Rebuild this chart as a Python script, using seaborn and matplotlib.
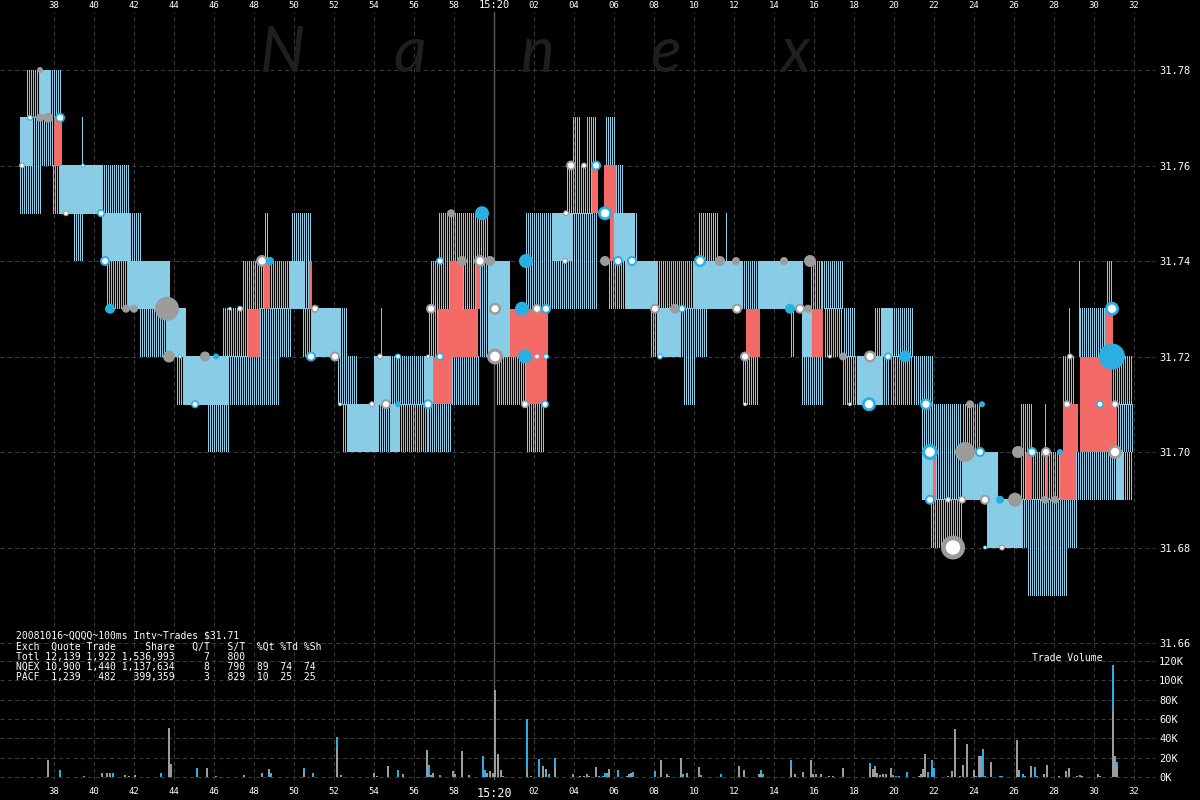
import numpy as np
import pandas as pd
import matplotlib.pyplot as plt
from matplotlib.collections import LineCollection
import seaborn as sns

# style
sns.set_style("dark", {"axes.facecolor": "black", "figure.facecolor": "black"})
plt.rcParams['font.family'] = ['DejaVu Sans Mono']

# ============================================
# DATA  (time = seconds after 15:19:00)
# ============================================

# quote bands: (start, end, bid, ask), one vertical line per 100ms interval
nqex_bands = [
    (36.6, 37.8, 31.77, 31.78), (36.3, 36.95, 31.76, 31.77), (37.9, 40.45, 31.75, 31.76),
    (40.4, 41.8, 31.74, 31.75), (40.6, 43.8, 31.73, 31.74), (43.6, 44.6, 31.72, 31.73),
    (44.1, 46.7, 31.71, 31.72), (48.5, 48.75, 31.74, 31.75), (47.4, 50.55, 31.73, 31.74),
    (46.4, 47.7, 31.72, 31.73), (50.45, 52.3, 31.72, 31.73), (54.3, 54.45, 31.72, 31.73),
    (54.0, 54.8, 31.71, 31.72), (56.55, 56.95, 31.71, 31.72), (52.4, 54.2, 31.70, 31.71),
    (54.8, 56.7, 31.70, 31.71), (57.2, 59.7, 31.74, 31.75), (56.8, 57.8, 31.73, 31.74),
    (58.45, 59.2, 31.73, 31.74), (59.7, 60.8, 31.72, 31.74), (56.7, 57.2, 31.72, 31.73),
    (60.15, 61.65, 31.71, 31.72), (61.65, 62.55, 31.70, 31.71), (62.95, 63.9, 31.74, 31.75),
    (63.6, 64.9, 31.75, 31.76), (63.9, 64.35, 31.76, 31.77), (64.6, 65.15, 31.76, 31.77),
    (65.95, 67.05, 31.74, 31.75), (70.2, 71.25, 31.74, 31.75), (65.7, 72.4, 31.73, 31.74),
    (73.2, 75.45, 31.73, 31.74), (75.8, 76.4, 31.73, 31.74), (67.8, 69.3, 31.72, 31.73),
    (74.8, 75.05, 31.72, 31.73), (75.4, 75.9, 31.72, 31.73), (76.55, 77.45, 31.72, 31.73),
    (79.0, 79.95, 31.72, 31.73), (72.45, 73.2, 31.71, 31.72), (77.4, 79.4, 31.71, 31.72),
    (79.8, 80.95, 31.71, 31.72), (83.4, 84.3, 31.70, 31.71), (81.4, 82.05, 31.69, 31.70),
    (83.4, 85.2, 31.69, 31.70), (81.8, 83.4, 31.68, 31.69), (84.65, 86.4, 31.68, 31.69),
    (86.3, 86.9, 31.69, 31.71), (86.9, 88.3, 31.69, 31.70), (91.15, 91.95, 31.69, 31.70),
    (87.55, 87.65, 31.70, 31.71), (88.45, 89.05, 31.71, 31.72), (90.9, 91.95, 31.71, 31.72),
    (88.75, 88.85, 31.72, 31.73), (89.25, 89.35, 31.72, 31.74), (90.65, 90.9, 31.73, 31.74),
]

pacf_bands = [
    (37.3, 38.4, 31.77, 31.78), (36.3, 37.95, 31.76, 31.77), (39.4, 39.5, 31.76, 31.77),
    (36.3, 37.4, 31.75, 31.76), (38.3, 41.8, 31.75, 31.76), (38.95, 39.45, 31.74, 31.75),
    (40.4, 42.4, 31.74, 31.75), (41.7, 43.8, 31.73, 31.74), (42.3, 44.6, 31.72, 31.73),
    (44.5, 49.3, 31.71, 31.72), (45.65, 46.8, 31.70, 31.71), (49.85, 50.9, 31.74, 31.75),
    (49.8, 50.75, 31.73, 31.74), (48.3, 49.9, 31.72, 31.73), (50.9, 52.7, 31.72, 31.73),
    (52.15, 53.15, 31.71, 31.72), (54.0, 56.95, 31.71, 31.72), (57.9, 59.3, 31.71, 31.72),
    (52.65, 55.3, 31.70, 31.71), (56.7, 57.9, 31.70, 31.71), (59.3, 60.8, 31.72, 31.74),
    (61.55, 65.15, 31.73, 31.75), (66.1, 66.45, 31.75, 31.76), (65.55, 66.1, 31.76, 31.77),
    (65.95, 67.2, 31.74, 31.75), (71.6, 71.7, 31.74, 31.75), (66.55, 68.15, 31.73, 31.74),
    (69.95, 75.45, 31.73, 31.74), (76.4, 77.45, 31.73, 31.74), (68.15, 70.65, 31.72, 31.73),
    (75.4, 75.9, 31.72, 31.73), (77.45, 78.1, 31.72, 31.73), (79.4, 80.95, 31.72, 31.73),
    (69.45, 70.1, 31.71, 31.72), (75.4, 76.45, 31.71, 31.72), (78.15, 79.8, 31.71, 31.72),
    (80.95, 81.95, 31.71, 31.72), (81.4, 83.4, 31.69, 31.71), (83.4, 85.2, 31.69, 31.70),
    (89.1, 91.45, 31.69, 31.70), (84.65, 89.15, 31.68, 31.69), (86.65, 88.65, 31.67, 31.68),
    (91.15, 91.95, 31.70, 31.71), (89.3, 90.55, 31.72, 31.73),
]

# locked / crossed periods
red_bands = [
    (38.0, 38.4, 31.76, 31.77), (48.5, 48.8, 31.73, 31.74), (50.75, 50.9, 31.73, 31.74),
    (47.7, 48.3, 31.72, 31.73), (56.95, 57.9, 31.71, 31.72), (57.8, 58.45, 31.73, 31.74),
    (59.1, 59.3, 31.73, 31.74), (57.2, 59.2, 31.72, 31.73), (60.8, 62.7, 31.72, 31.73),
    (61.6, 62.65, 31.71, 31.72), (64.9, 65.2, 31.75, 31.76), (65.5, 66.1, 31.75, 31.76),
    (65.8, 66.0, 31.74, 31.75), (72.6, 73.3, 31.72, 31.73), (75.9, 76.45, 31.72, 31.73),
    (81.95, 82.1, 31.69, 31.70), (86.6, 86.9, 31.69, 31.70), (87.6, 87.7, 31.69, 31.70),
    (88.3, 89.1, 31.69, 31.70), (88.45, 89.2, 31.70, 31.71), (89.3, 91.15, 31.70, 31.71),
    (89.3, 90.9, 31.71, 31.72), (90.55, 90.95, 31.72, 31.73),
]

# trades: (time, price, dot radius px, exchange, hollow)
trade_rows = [
    (37.3, 31.78, 3, 'NQEX', 0), (36.8, 31.77, 3, 'PACF', 1), (37.3, 31.77, 4, 'NQEX', 0),
    (37.7, 31.77, 5, 'NQEX', 0), (38.3, 31.77, 5, 'PACF', 1), (36.4, 31.76, 3, 'NQEX', 1),
    (39.45, 31.76, 2, 'PACF', 1), (38.6, 31.75, 3, 'NQEX', 1), (40.35, 31.75, 4, 'PACF', 1),
    (40.55, 31.74, 5, 'PACF', 1), (40.8, 31.73, 5, 'PACF', 0), (41.6, 31.73, 4, 'NQEX', 0),
    (42.0, 31.73, 4, 'NQEX', 0), (43.65, 31.73, 12, 'NQEX', 0), (43.75, 31.72, 6, 'NQEX', 0),
    (44.3, 31.72, 2, 'PACF', 1), (45.05, 31.71, 4, 'PACF', 1), (45.55, 31.72, 5, 'NQEX', 0),
    (46.1, 31.72, 3, 'PACF', 0), (46.8, 31.73, 2, 'PACF', 1), (47.3, 31.73, 3, 'NQEX', 1),
    (48.4, 31.74, 6, 'NQEX', 1), (48.8, 31.74, 4, 'PACF', 0), (50.85, 31.72, 5, 'PACF', 1),
    (52.05, 31.72, 5, 'NQEX', 1), (51.05, 31.73, 4, 'NQEX', 1), (52.3, 31.71, 2, 'NQEX', 1),
    (53.9, 31.71, 3, 'NQEX', 1), (54.6, 31.71, 5, 'NQEX', 1), (55.2, 31.71, 3, 'PACF', 0),
    (54.3, 31.72, 3, 'NQEX', 1), (55.2, 31.72, 3, 'PACF', 1), (56.7, 31.71, 5, 'PACF', 1),
    (56.7, 31.72, 2, 'NQEX', 1), (57.3, 31.72, 4, 'PACF', 1), (56.85, 31.73, 5, 'NQEX', 1),
    (57.3, 31.74, 4, 'PACF', 1), (57.85, 31.75, 4, 'NQEX', 0), (59.4, 31.75, 7, 'PACF', 0),
    (58.4, 31.74, 5, 'NQEX', 0), (59.3, 31.74, 6, 'NQEX', 1), (59.8, 31.74, 5, 'NQEX', 0),
    (60.05, 31.73, 6, 'NQEX', 1), (60.05, 31.72, 8, 'NQEX', 1), (61.4, 31.73, 7, 'PACF', 0),
    (62.15, 31.73, 5, 'NQEX', 1), (62.6, 31.73, 5, 'PACF', 1), (61.6, 31.74, 7, 'PACF', 0),
    (61.55, 31.72, 7, 'PACF', 0), (62.15, 31.72, 3, 'NQEX', 1), (62.6, 31.72, 3, 'PACF', 1),
    (61.55, 31.71, 4, 'NQEX', 1), (62.55, 31.71, 4, 'PACF', 1), (63.6, 31.75, 3, 'NQEX', 1),
    (65.55, 31.75, 7, 'PACF', 1), (63.85, 31.76, 5, 'NQEX', 1), (64.5, 31.76, 3, 'NQEX', 1),
    (65.1, 31.76, 5, 'PACF', 1), (65.55, 31.74, 5, 'NQEX', 0), (66.2, 31.74, 5, 'PACF', 1),
    (66.9, 31.74, 5, 'PACF', 1), (63.55, 31.74, 3, 'NQEX', 1), (68.05, 31.73, 5, 'NQEX', 1),
    (69.05, 31.73, 5, 'NQEX', 0), (69.4, 31.73, 4, 'PACF', 1), (68.3, 31.72, 3, 'PACF', 1),
    (70.3, 31.74, 6, 'PACF', 1), (71.3, 31.74, 5, 'NQEX', 0), (72.1, 31.74, 4, 'NQEX', 0),
    (72.15, 31.73, 5, 'NQEX', 1), (72.55, 31.72, 5, 'NQEX', 1), (72.55, 31.71, 2, 'NQEX', 1),
    (74.8, 31.73, 5, 'PACF', 0), (75.3, 31.73, 5, 'NQEX', 1), (75.7, 31.73, 4, 'NQEX', 0),
    (74.5, 31.74, 4, 'NQEX', 0), (75.8, 31.74, 6, 'NQEX', 0), (76.8, 31.72, 2, 'NQEX', 1),
    (77.45, 31.72, 4, 'NQEX', 0), (78.8, 31.72, 6, 'NQEX', 1), (79.7, 31.72, 4, 'PACF', 1),
    (80.55, 31.72, 6, 'PACF', 0), (77.8, 31.71, 2, 'NQEX', 1), (78.75, 31.71, 7, 'PACF', 1),
    (81.6, 31.71, 6, 'PACF', 1), (83.8, 31.71, 4, 'NQEX', 0), (84.4, 31.71, 3, 'PACF', 0),
    (81.8, 31.70, 8, 'PACF', 1), (83.55, 31.70, 10, 'NQEX', 0), (84.3, 31.70, 5, 'PACF', 1),
    (81.8, 31.69, 5, 'PACF', 1), (82.7, 31.69, 3, 'NQEX', 1), (83.4, 31.69, 4, 'NQEX', 1),
    (84.55, 31.69, 5, 'NQEX', 1), (85.3, 31.69, 4, 'PACF', 0), (86.05, 31.69, 7, 'NQEX', 0),
    (82.95, 31.68, 12, 'NQEX', 1), (84.55, 31.68, 2, 'PACF', 1), (85.4, 31.68, 3, 'NQEX', 1),
    (86.2, 31.70, 6, 'NQEX', 0), (86.9, 31.70, 5, 'PACF', 1), (87.6, 31.70, 5, 'NQEX', 1),
    (88.3, 31.70, 3, 'PACF', 0), (87.55, 31.69, 4, 'NQEX', 0), (88.05, 31.69, 4, 'NQEX', 0),
    (88.8, 31.72, 3, 'NQEX', 1), (88.65, 31.71, 4, 'NQEX', 1), (90.3, 31.71, 4, 'PACF', 1),
    (90.9, 31.73, 7, 'PACF', 1), (90.9, 31.72, 13, 'PACF', 0), (91.05, 31.70, 7, 'NQEX', 1),
    (91.05, 31.71, 4, 'NQEX', 1),
]

# trade volume per 100ms interval (thousand shares)
vol_t = [36.4, 36.8, 37.3, 37.7, 38.3, 38.6, 39.5, 40.4, 40.65, 40.8, 40.95, 41.55, 41.75,
         42.05, 43.1, 43.35, 43.75, 43.85, 44.35, 45.15, 45.65, 46.1, 46.5, 46.95, 47.5,
         48.4, 48.75, 48.85, 50.5, 50.95, 51.15, 52.15, 52.35, 54.0, 54.15, 54.7, 55.2,
         55.45, 56.65, 56.75, 56.85, 56.95, 57.3, 57.95, 58.05, 58.4, 58.75, 59.45, 59.55,
         59.65, 59.8, 59.95, 60.05, 60.2, 60.35, 60.45, 61.65, 61.85, 62.25, 62.45, 62.6,
         62.75, 63.05, 63.5, 63.95, 64.3, 64.5, 64.65, 64.75, 65.1, 65.25, 65.45, 65.55,
         65.65, 65.75, 66.2, 66.65, 66.75, 66.85, 66.95, 67.85, 68.05, 68.35, 68.65, 68.75,
         68.95, 69.15, 69.35, 69.45, 69.65, 69.85, 70.05, 70.25, 70.35, 70.55, 70.75, 70.9,
         71.35, 72.1, 72.25, 72.5, 73.25, 73.35, 73.45, 74.35, 74.55, 74.85, 75.05, 75.45,
         75.85, 75.95, 76.1, 76.35, 76.75, 76.95, 77.45, 78.8, 78.95, 79.05, 79.15, 79.3,
         79.45, 79.6, 79.85, 79.95, 80.1, 80.25, 80.5, 80.65, 81.25, 81.35, 81.45, 81.55,
         81.7, 81.9, 82.0, 82.7, 82.9, 83.05, 83.3, 83.45, 83.65, 84.0, 84.1, 84.25, 84.35,
         84.45, 84.55, 84.85, 85.05, 85.3, 85.4, 86.15, 86.25, 86.45, 86.55, 86.7, 86.85,
         87.05, 87.15, 87.3, 87.5, 87.65, 88.05, 88.25, 88.6, 88.75, 88.85, 89.15, 89.3,
         89.4, 90.2, 90.3, 90.65, 90.95, 91.05, 91.15]
vol_nqex = [0.5, 0, 0.5, 17.6, 0, 0.5, 0, 4.2, 4.2, 3, 0, 2, 1,
            2, 0.5, 0, 51, 13.6, 0, 0, 9.4, 0, 0, 0, 2,
            4.2, 8.4, 0, 4.9, 0, 0, 30.6, 2, 4.2, 1, 11.5, 0,
            3, 28.2, 0, 2, 4.2, 0, 6.2, 3, 27.1, 2, 0, 0,
            4.2, 6.2, 4.2, 90, 24, 7.3, 1, 7.3, 1, 0, 11.5, 8.4,
            0, 10, 0.5, 3, 1, 1, 3, 1, 10.8, 0, 1.5, 0,
            0, 8.4, 0, 1, 3, 4.2, 0, 0.5, 0, 18, 3, 0,
            0.5, 0.5, 19.8, 0, 4.2, 0.5, 0.5, 10.8, 0, 0, 0, 0,
            0, 0.5, 11.5, 7.6, 3, 4.5, 0, 0.5, 0.5, 10, 3, 4.9,
            18, 3, 3, 3, 1, 1, 9, 7, 8.4, 11, 4, 2,
            3, 3, 9, 0, 0, 0, 0, 0, 1, 3, 8, 23.3,
            0, 0, 0, 1, 6.2, 50, 1, 12.2, 34.5, 7, 0, 22, 22,
            0, 0, 16, 0.5, 0, 0, 38.6, 7, 0, 0, 0.5, 11.8,
            0, 0, 0.5, 3.5, 12.8, 0.5, 1, 6, 9, 0, 1, 2,
            1, 3.5, 1, 0.5, 67.6, 21.7, 10]
vol_pacf = [0, 0.5, 0, 0, 7.3, 0, 1, 0, 0, 1, 4.2, 0, 0,
            0, 0, 4.2, 0, 0, 0.5, 9.4, 0, 1, 0.5, 0.5, 0,
            0, 0, 4.2, 4.5, 4.2, 0.5, 11.2, 0, 0, 0, 0, 7.3,
            0, 0, 12.5, 0, 0, 2, 0, 0, 0, 0, 21.9, 7.3,
            0, 0, 0, 0, 0, 0, 0, 52.7, 0, 18.8, 0, 0,
            3, 10, 0, 0, 0, 0, 0, 0, 0, 1.5, 0, 4.2,
            4.2, 0, 7.3, 0, 0, 0, 4.9, 0, 6.6, 0, 0, 1,
            0, 0, 0, 3, 0, 0, 0, 0, 2, 0.5, 0.5, 0.5,
            3.5, 0, 0, 0, 0, 3.1, 3, 0, 0, 7.7, 0, 0,
            0, 0, 0, 0, 0, 0, 0, 7, 0, 0, 0, 0,
            0, 0, 0, 2, 1, 1, 0.5, 4.9, 0, 0, 0, 0,
            4.9, 17.4, 9, 0, 0, 0, 0, 0, 0, 0, 1, 0, 0,
            28.5, 1, 0, 0, 1, 1, 0, 0, 3.5, 1, 0, 0,
            10.8, 1, 0, 0, 0, 0, 0, 0, 0, 0.5, 0, 0,
            0, 0, 0, 0, 48.4, 0, 5.2]

price_ticks = [31.66, 31.68, 31.70, 31.72, 31.74, 31.76, 31.78]
vol_ticks = [0, 20, 40, 60, 80, 100, 120]
time_ticks = list(range(38, 93, 2))
time_labels = ['15:20' if s == 60 else f'{s % 60:02d}' for s in time_ticks]

summary_lines = [
    "20081016~QQQQ~100ms Intv~Trades $31.71",
    "Exch  Quote Trade     Share   Q/T   S/T  %Qt %Td %Sh",
    "Totl 12,139 1,922 1,536,993     7   800",
    "NQEX 10,900 1,440 1,137,634     8   790  89  74  74",
    "PACF  1,239   482   399,359     3   829  10  25  25",
]

# colours
GRAY_LINE = '#b8b8b8'
CYAN_LINE = '#8ccfe8'
GRAY_DOT = '#9c9c9c'
CYAN_DOT = '#2aafe3'
RED = '#f36a66'
GRID = '#3a3a3a'
STEP = 0.1


def band_segments(bands, offset):
    """one vertical bid-ask line per 100ms interval"""
    segs = []
    for t0, t1, lo, hi in bands:
        k0 = int(np.ceil((t0 - offset) / STEP - 1e-6))
        k1 = int(np.ceil((t1 - offset) / STEP - 1e-6))
        for k in range(k0, k1):
            t = round(k * STEP + offset, 4)
            segs.append([(t, lo), (t, hi)])
    return segs


# ============================================
# FIGURE
# ============================================
fig = plt.figure(figsize=(12, 8), dpi=100)
fig.patch.set_facecolor('black')
ax = fig.add_axes([0, 1 - 648 / 800, 1155 / 1200, 636 / 800])
axv = fig.add_axes([0, 1 - 780 / 800, 1155 / 1200, 132 / 800])

xmin, xmax = 35.3, 35.3 + 1155 / 20
for a in (ax, axv):
    a.set_facecolor('black')
    a.set_xlim(xmin, xmax)
    for sp in a.spines.values():
        sp.set_visible(False)
    a.set_xticks(time_ticks)
    a.set_xticklabels(time_labels)
    a.grid(True, color=GRID, linestyle=(0, (4, 3)), linewidth=0.75)
    a.set_axisbelow(True)
    a.axvline(60, color='#5c5c5c', linewidth=1, zorder=1.5)
    a.yaxis.tick_right()
    a.tick_params(axis='y', length=0, pad=3, labelsize=7.5, colors='white')

ax.set_ylim(31.78 - 578 / 4775, 31.78 + 58 / 4775)
ax.set_yticks(price_ticks)
ax.set_yticklabels([f'{p:.2f}' for p in price_ticks])
ax.tick_params(axis='x', top=True, labeltop=True, bottom=False, labelbottom=False,
               length=0, pad=1.5, labelsize=6.5, colors='white')

axv.set_ylim(-3.1, 133.4)
axv.set_yticks(vol_ticks)
axv.set_yticklabels([f'{v}K' for v in vol_ticks])
axv.tick_params(axis='x', length=0, pad=5, labelsize=6.5, colors='white')

for tick in ax.xaxis.get_major_ticks():
    if tick.label2.get_text() == '15:20':
        tick.label2.set_fontsize(7.5)
for tick in axv.xaxis.get_major_ticks():
    if tick.label1.get_text() == '15:20':
        tick.label1.set_fontsize(8.5)

# watermark
for xpix, letter in zip([283, 410, 537, 665, 795], 'Nanex'):
    fig.text(xpix / 1200, 1 - 72 / 800, letter, fontsize=46, color='#1f1f1f',
             family='Lato', style='italic', ha='center', va='baseline', zorder=0)

# quote bands: PACF on even pixel columns, NQEX on odd ones
ax.add_collection(LineCollection(band_segments(nqex_bands, 0.075), colors=GRAY_LINE,
                                 linewidths=0.72, antialiased=False, snap=False, zorder=2))
ax.add_collection(LineCollection(band_segments(pacf_bands, 0.025), colors=CYAN_LINE,
                                 linewidths=0.72, antialiased=False, snap=False, zorder=2))

# locked / crossed
for t0, t1, lo, hi in red_bands:
    ax.bar(t0, hi - lo, width=t1 - t0, bottom=lo, align='edge', color=RED,
           linewidth=0, zorder=3)

# trades
trades = pd.DataFrame(trade_rows, columns=['t', 'price', 'r', 'exch', 'hollow'])
trades['area'] = (1.44 * trades['r']) ** 2
amin, amax = trades['area'].min(), trades['area'].max()
sns.scatterplot(data=trades, x='t', y='price', hue='exch',
                palette={'NQEX': GRAY_DOT, 'PACF': CYAN_DOT},
                size='area', sizes=(amin, amax), size_norm=(amin, amax),
                linewidth=0, legend=False, ax=ax, zorder=5)
hollow = trades[trades['hollow'] == 1]
ax.scatter(hollow['t'], hollow['price'], s=hollow['area'] * 0.36, color='white',
           linewidth=0, zorder=6)
ax.set_xlabel('')
ax.set_ylabel('')

# trade volume
axv.bar(vol_t, vol_nqex, width=STEP, color=GRAY_DOT, linewidth=0, zorder=3,
        antialiased=False)
axv.bar(vol_t, vol_pacf, bottom=vol_nqex, width=STEP, color=CYAN_DOT, linewidth=0,
        zorder=3, antialiased=False)
fig.text(1032 / 1200, 1 - 658 / 800, 'Trade Volume', color='white', fontsize=7,
         va='center', ha='left')

# summary block
for ypix, line in zip([636, 647, 657, 667, 677], summary_lines):
    fig.text(16 / 1200, 1 - ypix / 800, line, color='white', fontsize=7,
             va='center', ha='left')
ax.scatter([9 / 1200], [1 - 667 / 800], s=(1.44 * 6) ** 2, color=GRAY_DOT,
           transform=fig.transFigure, clip_on=False, linewidth=0, zorder=7)
ax.scatter([8 / 1200], [1 - 677 / 800], s=(1.44 * 2.5) ** 2, color=CYAN_DOT,
           transform=fig.transFigure, clip_on=False, linewidth=0, zorder=7)

plt.savefig('out.png', dpi=100, facecolor='black')
